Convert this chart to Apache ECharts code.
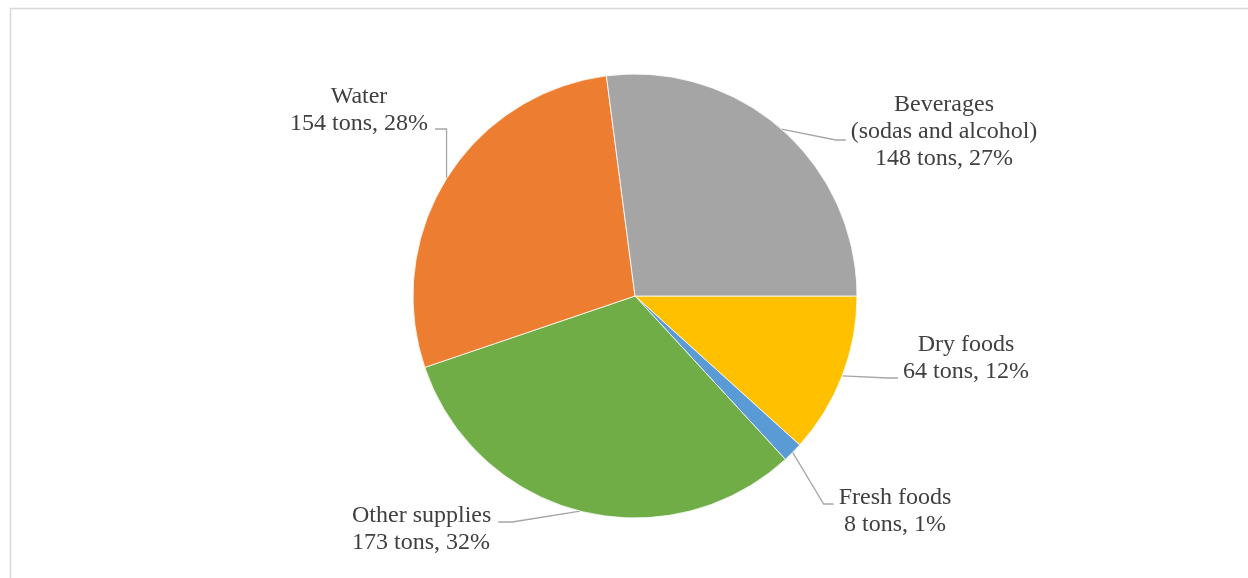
<!DOCTYPE html>
<html>
<head>
<meta charset="utf-8">
<script src="https://cdn.jsdelivr.net/npm/echarts@6/dist/echarts.min.js"></script>
<style>
html, body { margin: 0; padding: 0; background: #fff; }
#chart { width: 1248px; height: 578px; }
</style>
</head>
<body>
<div id="chart"></div>
<script>
// Data (clockwise order from 3 o'clock)
const categories = ['Dry foods', 'Fresh foods', 'Other supplies', 'Water', 'Beverages\n(sodas and alcohol)'];
const tons = [64, 8, 173, 154, 148];
const colors = ['#FFC000', '#5B9BD5', '#70AD47', '#ED7D31', '#A5A5A5'];

const total = tons.reduce((a, b) => a + b, 0);

// Label placement (text block anchor), line attach side and vertical offset
const labelPlacement = [
  { x: 966, y: 358, align: 'center', side: 'left', dy: 20 },
  { x: 895, y: 511, align: 'center', side: 'left', dy: -7 },
  { x: 352, y: 529, align: 'left', side: 'right', dy: -7 },
  { x: 359, y: 110, align: 'center', side: 'right', dy: 19, vertical: true },
  { x: 944, y: 132, align: 'center', side: 'left', dy: 8 }
];

const CX = 635, CY = 296, R = 222;

const chart = echarts.init(document.getElementById('chart'));
chart.setOption({
  animation: false,
  backgroundColor: '#ffffff',
  graphic: [{
    type: 'rect',
    shape: { x: 10.5, y: 8.5, width: 1260, height: 600 },
    style: { fill: 'none', stroke: '#D9D9D9', lineWidth: 1.5 },
    silent: true
  }],
  series: [{
    type: 'pie',
    center: [CX, CY],
    radius: R,
    startAngle: 0,
    clockwise: true,
    avoidLabelOverlap: false,
    itemStyle: { borderColor: '#ffffff', borderWidth: 0.8 },
    label: {
      show: true,
      position: 'outside',
      fontFamily: 'Liberation Serif',
      fontSize: 24,
      lineHeight: 27,
      color: '#404040',
      formatter: function (p) {
        const pct = Math.round(p.value / total * 100);
        return p.name + '\n' + p.value + ' tons, ' + pct + '%';
      }
    },
    labelLine: {
      show: true,
      length: 20,
      length2: 10,
      lineStyle: { color: '#A6A6A6', width: 1.3 }
    },
    labelLayout: function (params) {
      const i = params.dataIndex;
      const lp = labelPlacement[i];
      const w = params.labelRect.width;
      let left;
      if (lp.align === 'center') left = lp.x - w / 2;
      else if (lp.align === 'left') left = lp.x;
      else left = lp.x - w;
      const right = left + w;
      let start;
      if (params.labelLinePoints && params.labelLinePoints[0]) {
        start = params.labelLinePoints[0];
      } else {
        let before = 0;
        for (let k = 0; k < i; k++) before += tons[k];
        const a = (before + tons[i] / 2) / total * Math.PI * 2;
        start = [CX + R * Math.cos(a), CY + R * Math.sin(a)];
      }
      const ey = lp.y + lp.dy;
      let end, elbow;
      if (lp.side === 'left') {
        end = [left - 5, ey];
        elbow = [end[0] - 10, ey];
      } else {
        end = [right + 7, ey];
        elbow = lp.vertical ? [start[0], ey] : [end[0] + 14, ey];
      }
      return {
        x: lp.x,
        y: lp.y,
        align: lp.align,
        verticalAlign: 'middle',
        labelLinePoints: [start, elbow, end]
      };
    },
    data: categories.map((c, i) => ({
      name: c,
      value: tons[i],
      itemStyle: { color: colors[i] }
    }))
  }]
});
</script>
</body>
</html>
